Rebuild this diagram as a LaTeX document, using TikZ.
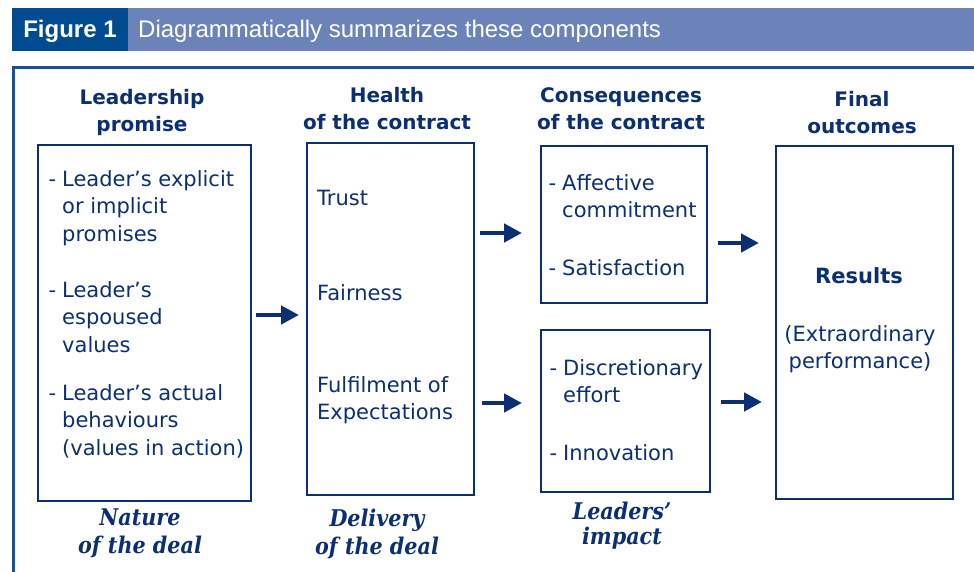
\documentclass[tikz,border=0pt]{standalone}
\usepackage{fontspec}
\setmainfont{DejaVu Sans}
\newfontfamily\headfont{Liberation Sans}
\newfontfamily\dealfont[FakeStretch=0.9, Ligatures=TeX]{DejaVu Serif}
\usepackage{tikz}
\usetikzlibrary{positioning, arrows.meta}
\definecolor{navy}{HTML}{0B2F72}
\definecolor{figblue}{HTML}{004A8F}
\definecolor{barblue}{HTML}{6C83B9}
\definecolor{frameblue}{HTML}{1D4F96}

\begin{document}
\begin{tikzpicture}[x=1pt, y=-1pt,
  box/.style={draw=navy, line width=2pt, inner sep=0pt},
  item/.style={anchor=base west, align=left, inner sep=0pt, text=navy, font=\fontsize{21}{27.5}\selectfont},
  title/.style={anchor=base, align=center, inner sep=0pt, text=navy, font=\bfseries\fontsize{20}{27}\selectfont},
  deal/.style={anchor=base, align=center, inner sep=0pt, text=navy, font=\dealfont\bfseries\itshape\fontsize{23}{28}\selectfont},
  arr/.style={draw=navy, line width=4.5pt, -{Triangle[length=18pt, width=18pt]}}]
  \useasboundingbox (0,0) rectangle (974,572);
  % heading
  \node[fill=barblue, minimum width=962, minimum height=43, inner sep=0pt] (bar) at (493,29.5) {};
  \node[fill=figblue, minimum width=116, minimum height=43, inner sep=0pt] (fig) at (70,29.5) {};
  \node[anchor=base, inner sep=0pt, text=white, font=\headfont\bfseries\fontsize{24}{24}\selectfont] (fignum) at (70,38) {Figure 1};
  \node[anchor=base west, inner sep=0pt, text=white, font=\headfont\fontsize{24}{24}\selectfont] (figtitle) at (138,38) {Diagrammatically summarizes these components};
  \draw[frameblue, line width=3pt] (13,572) -- (13,68) -- (974,68);
  % boxes
  \node[box, minimum width=213, minimum height=356] (promise) at (144.5,323) {};
  \node[box, minimum width=167, minimum height=352] (health) at (390.5,319) {};
  \node[box, minimum width=166, minimum height=157] (conA) at (624,224.5) {};
  \node[box, minimum width=169, minimum height=162] (conB) at (625.5,411) {};
  \node[box, minimum width=177, minimum height=353] (final) at (864.5,322.5) {};
  % titles (anchored on the last line)
  \node[title] (tpromise) at (142,132) {Leadership\\promise};
  \node[title] (thealth) at (387,130) {Health\\of the contract};
  \node[title] (tcon) at (621,130) {Consequences\\of the contract};
  \node[title] (tfinal) at (862,134) {Final\\outcomes};
  % box texts
  \node[item] (p1) at (62,241) {\llap{-\hspace{6pt}}Leader's explicit\\or implicit\\promises};
  \node[item] (p2) at (62,352) {\llap{-\hspace{6pt}}Leader's\\espoused\\values};
  \node[item] (p3) at (62,455) {\llap{-\hspace{6pt}}Leader's actual\\behaviours\\(values in action)};
  \node[item] (h1) at (317,205) {Trust};
  \node[item] (h2) at (317,300) {Fairness};
  \node[item] (h3) at (317,419.5) {Fulfilment of\\Expectations};
  \node[item] (c1) at (562,217.5) {\llap{-\hspace{6pt}}Affective\\commitment};
  \node[item] (c2) at (562,275) {\llap{-\hspace{6pt}}Satisfaction};
  \node[item] (c3) at (563,402.5) {\llap{-\hspace{6pt}}Discretionary\\effort};
  \node[item] (c4) at (563,460) {\llap{-\hspace{6pt}}Innovation};
  \node[anchor=base, inner sep=0pt, text=navy, font=\bfseries\fontsize{21}{27}\selectfont] (res) at (859,283) {Results};
  \node[item, anchor=base, align=center] (perf) at (860,368.5) {(Extraordinary\\performance)};
  % bottom labels
  \node[deal] (dnature) at (140,553) {Nature\\of the deal};
  \node[deal] (ddelivery) at (377,554) {Delivery\\of the deal};
  \node[deal, font=\dealfont\bfseries\itshape\fontsize{23}{25}\selectfont] (dimpact) at (622,544) {Leaders'\\impact};
  % arrows
  \draw[arr, shorten <=4pt, shorten >=7pt] ([yshift=8pt]promise.east) -- ([yshift=4pt]health.west);
  \draw[arr, shorten <=5pt, shorten >=18pt] ([yshift=86pt]health.east) -- ([yshift=-8.5pt]conA.west);
  \draw[arr, shorten <=7pt, shorten >=18pt] ([yshift=-84pt]health.east) -- ([yshift=8pt]conB.west);
  \draw[arr, shorten <=10pt, shorten >=16pt] ([yshift=-18.5pt]conA.east) -- ([yshift=79.5pt]final.west);
  \draw[arr, shorten <=10pt, shorten >=13pt] ([yshift=9pt]conB.east) -- ([yshift=-79.5pt]final.west);
\end{tikzpicture}
\end{document}
